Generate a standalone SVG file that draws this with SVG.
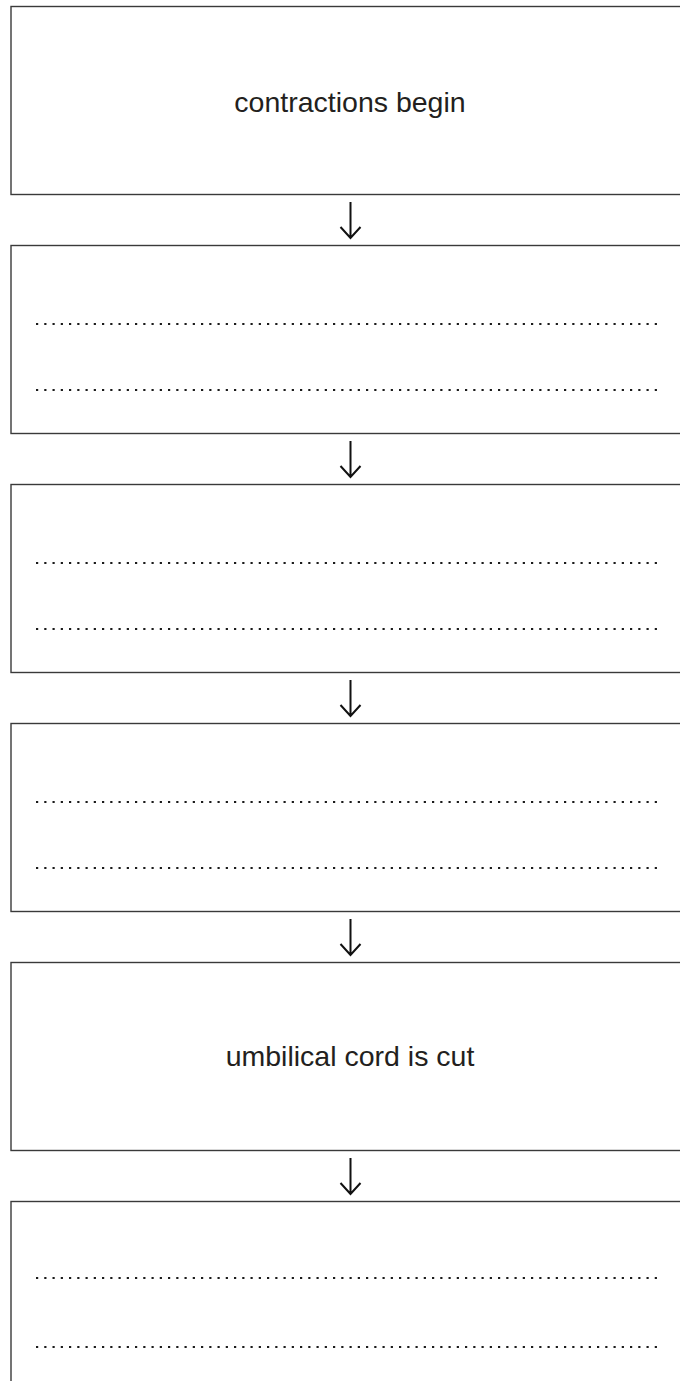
<svg xmlns="http://www.w3.org/2000/svg" width="680" height="1381" viewBox="0 0 680 1381">
<style>
.box{fill:#fff;stroke:#3a3a3a;stroke-width:1.4}
.lbl{font-family:"Liberation Sans",Arial,sans-serif;font-size:28.5px;fill:#231f20;text-anchor:middle}
.dots{stroke:#1a1a1a;stroke-width:2.2;stroke-dasharray:2.2 6.05;fill:none}
.arr{stroke:#111;stroke-width:2;fill:none}
</style>
<defs>
<g id="arrow"><path class="arr" d="M350.5,202 V238 M340.5,227 L350.5,238 L360.5,227"/></g>
</defs>
<rect width="680" height="1381" fill="#fff"/>
<g id="n1"><rect class="box" x="11" y="6.5" width="700" height="188"/><text class="lbl" x="350" y="112">contractions begin</text></g>
<g id="n2"><rect class="box" x="11" y="245.5" width="700" height="188"/><line class="dots" x1="36" y1="324" x2="662" y2="324"/><line class="dots" x1="36" y1="390" x2="662" y2="390"/></g>
<g id="n3"><rect class="box" x="11" y="484.5" width="700" height="188"/><line class="dots" x1="36" y1="563" x2="662" y2="563"/><line class="dots" x1="36" y1="629" x2="662" y2="629"/></g>
<g id="n4"><rect class="box" x="11" y="723.5" width="700" height="188"/><line class="dots" x1="36" y1="802" x2="662" y2="802"/><line class="dots" x1="36" y1="868" x2="662" y2="868"/></g>
<g id="n5"><rect class="box" x="11" y="962.5" width="700" height="188"/><text class="lbl" x="350" y="1066">umbilical cord is cut</text></g>
<g id="n6"><rect class="box" x="11" y="1201.5" width="700" height="250"/><line class="dots" x1="36" y1="1278" x2="662" y2="1278"/><line class="dots" x1="36" y1="1347" x2="662" y2="1347"/></g>
<g id="connectors">
<use href="#arrow"/>
<use href="#arrow" y="239"/>
<use href="#arrow" y="478"/>
<use href="#arrow" y="717"/>
<use href="#arrow" y="956"/>
</g>
</svg>
